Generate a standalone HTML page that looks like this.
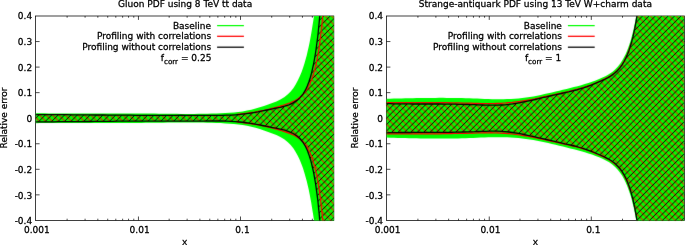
<!DOCTYPE html>
<html><head><meta charset="utf-8"><title>PDF profiling</title>
<style>html,body{margin:0;padding:0;background:#fff}svg{display:block}</style></head>
<body>
<svg width="685" height="245" viewBox="0 0 685 245" font-family='"DejaVu Sans", "Liberation Sans", sans-serif' font-size="9.0" fill="#000">
<style>text{stroke:#000;stroke-width:0.27px;stroke-linejoin:round}</style>
<rect width="685" height="245" fill="#fff"/>
<filter id="soft" x="0" y="0" width="685" height="245" filterUnits="userSpaceOnUse" color-interpolation-filters="sRGB"><feConvolveMatrix order="3" kernelMatrix="0.0052 0.0619 0.0052 0.0619 0.7314 0.0619 0.0052 0.0619 0.0052" divisor="1" edgeMode="duplicate" preserveAlpha="false"/></filter>
<filter id="soft2" x="0" y="0" width="685" height="245" filterUnits="userSpaceOnUse" color-interpolation-filters="sRGB"><feConvolveMatrix order="3" kernelMatrix="0.0004 0.0194 0.0004 0.0194 0.9206 0.0194 0.0004 0.0194 0.0004" divisor="1" edgeMode="duplicate" preserveAlpha="false"/></filter>
<filter id="soft3" x="0" y="0" width="685" height="245" filterUnits="userSpaceOnUse" color-interpolation-filters="sRGB"><feConvolveMatrix order="3" kernelMatrix="0.0143 0.0910 0.0143 0.0910 0.5785 0.0910 0.0143 0.0910 0.0143" divisor="1" edgeMode="duplicate" preserveAlpha="false"/></filter>
<path d="M67.12,220.4v-1.7M67.12,16.0v1.7M85.09,220.4v-1.7M85.09,16.0v1.7M97.84,220.4v-1.7M97.84,16.0v1.7M107.73,220.4v-1.7M107.73,16.0v1.7M115.81,220.4v-1.7M115.81,16.0v1.7M122.64,220.4v-1.7M122.64,16.0v1.7M128.56,220.4v-1.7M128.56,16.0v1.7M133.78,220.4v-1.7M133.78,16.0v1.7M138.45,220.4v-3.9M138.45,16.0v3.9M169.17,220.4v-1.7M169.17,16.0v1.7M187.14,220.4v-1.7M187.14,16.0v1.7M199.89,220.4v-1.7M199.89,16.0v1.7M209.78,220.4v-1.7M209.78,16.0v1.7M217.86,220.4v-1.7M217.86,16.0v1.7M224.69,220.4v-1.7M224.69,16.0v1.7M230.61,220.4v-1.7M230.61,16.0v1.7M235.83,220.4v-1.7M235.83,16.0v1.7M240.50,220.4v-3.9M240.50,16.0v3.9M271.72,220.4v-1.7M271.72,16.0v1.7M289.69,220.4v-1.7M289.69,16.0v1.7M302.44,220.4v-1.7M302.44,16.0v1.7M312.33,220.4v-1.7M312.33,16.0v1.7M320.41,220.4v-1.7M320.41,16.0v1.7M327.24,220.4v-1.7M327.24,16.0v1.7M35.6,194.85h4M333.8,194.85h-4M35.6,169.30h4M333.8,169.30h-4M35.6,143.75h4M333.8,143.75h-4M35.6,118.20h4M333.8,118.20h-4M35.6,92.65h4M333.8,92.65h-4M35.6,67.10h4M333.8,67.10h-4M35.6,41.55h4M333.8,41.55h-4" stroke="#000" stroke-width="0.7" fill="none"/>
<rect x="35.6" y="16.0" width="298.2" height="204.4" fill="none" stroke="#000" stroke-width="0.75"/>
<clipPath id="cl"><rect x="35.6" y="16.0" width="298.2" height="204.4"/></clipPath>
<clipPath id="rl"><path d="M35.6,114.6 L40.2,114.6 L44.7,114.6 L49.3,114.6 L53.9,114.6 L58.5,114.7 L63.0,114.7 L67.6,114.7 L72.2,114.8 L76.8,114.8 L81.3,114.8 L85.9,114.9 L90.5,114.9 L95.1,115.0 L99.6,115.0 L104.2,115.0 L108.8,115.1 L113.4,115.1 L117.9,115.1 L122.5,115.2 L127.1,115.2 L131.7,115.2 L136.2,115.3 L140.8,115.3 L145.4,115.3 L150.0,115.3 L154.5,115.3 L159.1,115.3 L163.7,115.3 L168.3,115.3 L172.8,115.3 L177.4,115.3 L182.0,115.3 L186.5,115.3 L191.1,115.3 L195.7,115.3 L200.3,115.3 L204.8,115.4 L209.4,115.4 L214.0,115.4 L218.6,115.4 L223.1,115.3 L227.7,115.1 L232.3,114.8 L236.8,114.4 L241.4,113.9 L245.9,113.3 L250.4,112.7 L255.0,112.0 L259.5,111.2 L264.0,110.3 L268.4,109.3 L272.9,108.2 L277.3,107.0 L281.7,105.7 L286.0,104.3 L290.3,102.8 L294.5,100.9 L298.4,98.5 L301.9,95.5 L304.9,92.1 L307.5,88.3 L309.6,84.3 L311.4,80.1 L312.9,75.8 L314.2,71.4 L315.4,66.9 L316.4,62.5 L317.3,58.0 L318.1,53.5 L318.8,49.0 L319.5,44.5 L320.1,39.9 L320.7,35.4 L321.2,30.8 L321.7,26.3 L322.2,21.7 L322.6,17.2 L323.0,12.6 L323.4,8.1 L335.8,8.1 L335.8,228.3 L323.4,228.3 L323.0,223.8 L322.6,219.2 L322.2,214.7 L321.7,210.1 L321.2,205.6 L320.7,201.0 L320.1,196.5 L319.5,191.9 L318.8,187.4 L318.1,182.9 L317.3,178.4 L316.4,173.9 L315.4,169.5 L314.2,165.0 L312.9,160.6 L311.4,156.3 L309.6,152.1 L307.5,148.1 L304.9,144.3 L301.9,140.9 L298.4,137.9 L294.5,135.5 L290.3,133.6 L286.0,132.1 L281.7,130.7 L277.3,129.4 L272.9,128.2 L268.4,127.1 L264.0,126.1 L259.5,125.2 L255.0,124.4 L250.4,123.7 L245.9,123.1 L241.4,122.5 L236.8,122.0 L232.3,121.6 L227.7,121.3 L223.1,121.1 L218.6,121.0 L214.0,121.0 L209.4,121.0 L204.8,121.0 L200.3,121.1 L195.7,121.1 L191.1,121.1 L186.5,121.1 L182.0,121.1 L177.4,121.1 L172.8,121.1 L168.3,121.1 L163.7,121.1 L159.1,121.1 L154.5,121.1 L150.0,121.1 L145.4,121.1 L140.8,121.1 L136.2,121.1 L131.7,121.2 L127.1,121.2 L122.5,121.2 L117.9,121.3 L113.4,121.3 L108.8,121.3 L104.2,121.4 L99.6,121.4 L95.1,121.4 L90.5,121.5 L85.9,121.5 L81.3,121.6 L76.8,121.6 L72.2,121.6 L67.6,121.7 L63.0,121.7 L58.5,121.7 L53.9,121.8 L49.3,121.8 L44.7,121.8 L40.2,121.8 L35.6,121.8Z"/></clipPath>
<clipPath id="bl"><path d="M35.6,114.6 L40.1,114.6 L44.7,114.6 L49.2,114.6 L53.8,114.6 L58.3,114.7 L62.9,114.7 L67.4,114.7 L72.0,114.8 L76.5,114.8 L81.0,114.8 L85.6,114.9 L90.1,114.9 L94.7,115.0 L99.2,115.0 L103.8,115.0 L108.3,115.1 L112.9,115.1 L117.4,115.2 L121.9,115.2 L126.5,115.2 L131.0,115.2 L135.6,115.3 L140.1,115.3 L144.7,115.3 L149.2,115.3 L153.8,115.3 L158.3,115.3 L162.8,115.3 L167.4,115.3 L171.9,115.3 L176.5,115.3 L181.0,115.2 L185.6,115.3 L190.1,115.3 L194.7,115.3 L199.2,115.3 L203.7,115.3 L208.3,115.4 L212.8,115.4 L217.4,115.4 L221.9,115.4 L226.5,115.2 L231.0,115.1 L235.5,114.8 L240.1,114.4 L244.6,113.9 L249.1,113.3 L253.6,112.6 L258.1,111.8 L262.5,110.9 L267.0,110.0 L271.4,109.1 L275.9,108.2 L280.3,107.3 L284.7,106.2 L289.0,104.8 L293.2,102.9 L297.0,100.4 L300.3,97.4 L303.2,93.8 L305.5,89.9 L307.4,85.8 L309.0,81.5 L310.4,77.2 L311.6,72.8 L312.6,68.4 L313.6,64.0 L314.4,59.5 L315.2,55.0 L315.9,50.5 L316.5,46.0 L317.1,41.5 L317.7,37.0 L318.2,32.5 L318.6,28.0 L319.1,23.4 L319.5,18.9 L319.9,14.4 L320.3,9.9 L335.8,9.9 L335.8,226.5 L320.3,226.5 L319.9,222.0 L319.5,217.5 L319.1,213.0 L318.6,208.4 L318.2,203.9 L317.7,199.4 L317.1,194.9 L316.5,190.4 L315.9,185.9 L315.2,181.4 L314.4,176.9 L313.6,172.4 L312.6,168.0 L311.6,163.6 L310.4,159.2 L309.0,154.9 L307.4,150.6 L305.5,146.5 L303.2,142.6 L300.3,139.0 L297.0,136.0 L293.2,133.5 L289.0,131.6 L284.7,130.2 L280.3,129.1 L275.9,128.2 L271.4,127.3 L267.0,126.4 L262.5,125.5 L258.1,124.6 L253.6,123.8 L249.1,123.1 L244.6,122.5 L240.1,122.0 L235.5,121.6 L231.0,121.3 L226.5,121.2 L221.9,121.0 L217.4,121.0 L212.8,121.0 L208.3,121.0 L203.7,121.1 L199.2,121.1 L194.7,121.1 L190.1,121.1 L185.6,121.1 L181.0,121.2 L176.5,121.1 L171.9,121.1 L167.4,121.1 L162.8,121.1 L158.3,121.1 L153.8,121.1 L149.2,121.1 L144.7,121.1 L140.1,121.1 L135.6,121.1 L131.0,121.2 L126.5,121.2 L121.9,121.2 L117.4,121.2 L112.9,121.3 L108.3,121.3 L103.8,121.4 L99.2,121.4 L94.7,121.4 L90.1,121.5 L85.6,121.5 L81.0,121.6 L76.5,121.6 L72.0,121.6 L67.4,121.7 L62.9,121.7 L58.3,121.7 L53.8,121.8 L49.2,121.8 L44.7,121.8 L40.1,121.8 L35.6,121.8Z"/></clipPath>
<g filter="url(#soft)"><g clip-path="url(#cl)">
<path d="M35.6,113.2 L40.0,113.3 L44.4,113.3 L48.8,113.4 L53.2,113.4 L57.6,113.4 L62.0,113.4 L66.5,113.5 L70.9,113.5 L75.3,113.5 L79.7,113.5 L84.1,113.5 L88.5,113.5 L92.9,113.5 L97.3,113.5 L101.7,113.5 L106.1,113.5 L110.5,113.5 L114.9,113.5 L119.3,113.5 L123.8,113.5 L128.2,113.5 L132.6,113.5 L137.0,113.5 L141.4,113.5 L145.8,113.6 L150.2,113.6 L154.6,113.6 L159.0,113.7 L163.4,113.7 L167.8,113.8 L172.2,113.8 L176.7,113.8 L181.1,113.9 L185.5,113.9 L189.9,113.9 L194.3,113.9 L198.7,113.8 L203.1,113.8 L207.5,113.7 L211.9,113.6 L216.3,113.4 L220.7,113.3 L225.1,113.0 L229.5,112.7 L233.9,112.4 L238.3,111.9 L242.7,111.4 L247.0,110.6 L251.3,109.7 L255.6,108.6 L259.8,107.3 L264.0,105.9 L268.2,104.5 L272.3,103.0 L276.4,101.4 L280.4,99.5 L284.2,97.2 L287.6,94.5 L290.7,91.4 L293.5,87.9 L295.8,84.2 L297.9,80.3 L299.8,76.3 L301.5,72.2 L303.0,68.1 L304.3,63.9 L305.5,59.7 L306.7,55.4 L307.7,51.1 L308.7,46.8 L309.6,42.5 L310.4,38.2 L311.2,33.8 L311.9,29.5 L312.6,25.1 L313.3,20.8 L313.9,16.4 L314.5,12.1 L315.1,7.7 L335.8,7.7 L335.8,228.7 L315.1,228.7 L314.5,224.3 L313.9,220.0 L313.3,215.6 L312.6,211.3 L311.9,206.9 L311.2,202.6 L310.4,198.2 L309.6,193.9 L308.7,189.6 L307.7,185.3 L306.7,181.0 L305.5,176.7 L304.3,172.5 L303.0,168.3 L301.5,164.2 L299.8,160.1 L297.9,156.1 L295.8,152.2 L293.5,148.5 L290.7,145.0 L287.6,141.9 L284.2,139.2 L280.4,136.9 L276.4,135.0 L272.3,133.4 L268.2,131.9 L264.0,130.5 L259.8,129.1 L255.6,127.8 L251.3,126.7 L247.0,125.8 L242.7,125.0 L238.3,124.5 L233.9,124.0 L229.5,123.7 L225.1,123.4 L220.7,123.1 L216.3,123.0 L211.9,122.8 L207.5,122.7 L203.1,122.6 L198.7,122.6 L194.3,122.5 L189.9,122.5 L185.5,122.5 L181.1,122.5 L176.7,122.6 L172.2,122.6 L167.8,122.6 L163.4,122.7 L159.0,122.7 L154.6,122.8 L150.2,122.8 L145.8,122.8 L141.4,122.9 L137.0,122.9 L132.6,122.9 L128.2,122.9 L123.8,122.9 L119.3,122.9 L114.9,122.9 L110.5,122.9 L106.1,122.9 L101.7,122.9 L97.3,122.9 L92.9,122.9 L88.5,122.9 L84.1,122.9 L79.7,122.9 L75.3,122.9 L70.9,122.9 L66.5,122.9 L62.0,123.0 L57.6,123.0 L53.2,123.0 L48.8,123.0 L44.4,123.1 L40.0,123.1 L35.6,123.2Z" fill="#00ff00"/>
<path filter="url(#soft3)" clip-path="url(#rl)" d="M-169.38,15.00L37.02,221.40M-162.97,15.00L43.43,221.40M-156.56,15.00L49.84,221.40M-150.15,15.00L56.25,221.40M-143.74,15.00L62.66,221.40M-137.33,15.00L69.07,221.40M-130.92,15.00L75.48,221.40M-124.51,15.00L81.89,221.40M-118.10,15.00L88.30,221.40M-111.69,15.00L94.71,221.40M-105.28,15.00L101.12,221.40M-98.87,15.00L107.53,221.40M-92.46,15.00L113.94,221.40M-86.05,15.00L120.35,221.40M-79.64,15.00L126.76,221.40M-73.23,15.00L133.17,221.40M-66.82,15.00L139.58,221.40M-60.41,15.00L145.99,221.40M-54.00,15.00L152.40,221.40M-47.59,15.00L158.81,221.40M-41.18,15.00L165.22,221.40M-34.77,15.00L171.63,221.40M-28.36,15.00L178.04,221.40M-21.95,15.00L184.45,221.40M-15.54,15.00L190.86,221.40M-9.13,15.00L197.27,221.40M-2.72,15.00L203.68,221.40M3.69,15.00L210.09,221.40M10.10,15.00L216.50,221.40M16.51,15.00L222.91,221.40M22.92,15.00L229.32,221.40M29.33,15.00L235.73,221.40M35.74,15.00L242.14,221.40M42.15,15.00L248.55,221.40M48.56,15.00L254.96,221.40M54.97,15.00L261.37,221.40M61.38,15.00L267.78,221.40M67.79,15.00L274.19,221.40M74.20,15.00L280.60,221.40M80.61,15.00L287.01,221.40M87.02,15.00L293.42,221.40M93.43,15.00L299.83,221.40M99.84,15.00L306.24,221.40M106.25,15.00L312.65,221.40M112.66,15.00L319.06,221.40M119.07,15.00L325.47,221.40M125.48,15.00L331.88,221.40M131.89,15.00L338.29,221.40M138.30,15.00L344.70,221.40M144.71,15.00L351.11,221.40M151.12,15.00L357.52,221.40M157.53,15.00L363.93,221.40M163.94,15.00L370.34,221.40M170.35,15.00L376.75,221.40M176.76,15.00L383.16,221.40M183.17,15.00L389.57,221.40M189.58,15.00L395.98,221.40M195.99,15.00L402.39,221.40M202.40,15.00L408.80,221.40M208.81,15.00L415.21,221.40M215.22,15.00L421.62,221.40M221.63,15.00L428.03,221.40M228.04,15.00L434.44,221.40M234.45,15.00L440.85,221.40M240.86,15.00L447.26,221.40M247.27,15.00L453.67,221.40M253.68,15.00L460.08,221.40M260.09,15.00L466.49,221.40M266.50,15.00L472.90,221.40M272.91,15.00L479.31,221.40M279.32,15.00L485.72,221.40M285.73,15.00L492.13,221.40M292.14,15.00L498.54,221.40M298.55,15.00L504.95,221.40M304.96,15.00L511.36,221.40M311.37,15.00L517.77,221.40M317.78,15.00L524.18,221.40M324.19,15.00L530.59,221.40M330.60,15.00L537.00,221.40" stroke="#ff0000" stroke-width="1.02" fill="none"/>
<path filter="url(#soft2)" clip-path="url(#bl)" d="M36.32,15.00L-170.08,221.40M42.73,15.00L-163.67,221.40M49.14,15.00L-157.26,221.40M55.55,15.00L-150.85,221.40M61.96,15.00L-144.44,221.40M68.37,15.00L-138.03,221.40M74.78,15.00L-131.62,221.40M81.19,15.00L-125.21,221.40M87.60,15.00L-118.80,221.40M94.01,15.00L-112.39,221.40M100.42,15.00L-105.98,221.40M106.83,15.00L-99.57,221.40M113.24,15.00L-93.16,221.40M119.65,15.00L-86.75,221.40M126.06,15.00L-80.34,221.40M132.47,15.00L-73.93,221.40M138.88,15.00L-67.52,221.40M145.29,15.00L-61.11,221.40M151.70,15.00L-54.70,221.40M158.11,15.00L-48.29,221.40M164.52,15.00L-41.88,221.40M170.93,15.00L-35.47,221.40M177.34,15.00L-29.06,221.40M183.75,15.00L-22.65,221.40M190.16,15.00L-16.24,221.40M196.57,15.00L-9.83,221.40M202.98,15.00L-3.42,221.40M209.39,15.00L2.99,221.40M215.80,15.00L9.40,221.40M222.21,15.00L15.81,221.40M228.62,15.00L22.22,221.40M235.03,15.00L28.63,221.40M241.44,15.00L35.04,221.40M247.85,15.00L41.45,221.40M254.26,15.00L47.86,221.40M260.67,15.00L54.27,221.40M267.08,15.00L60.68,221.40M273.49,15.00L67.09,221.40M279.90,15.00L73.50,221.40M286.31,15.00L79.91,221.40M292.72,15.00L86.32,221.40M299.13,15.00L92.73,221.40M305.54,15.00L99.14,221.40M311.95,15.00L105.55,221.40M318.36,15.00L111.96,221.40M324.77,15.00L118.37,221.40M331.18,15.00L124.78,221.40M337.59,15.00L131.19,221.40M344.00,15.00L137.60,221.40M350.41,15.00L144.01,221.40M356.82,15.00L150.42,221.40M363.23,15.00L156.83,221.40M369.64,15.00L163.24,221.40M376.05,15.00L169.65,221.40M382.46,15.00L176.06,221.40M388.87,15.00L182.47,221.40M395.28,15.00L188.88,221.40M401.69,15.00L195.29,221.40M408.10,15.00L201.70,221.40M414.51,15.00L208.11,221.40M420.92,15.00L214.52,221.40M427.33,15.00L220.93,221.40M433.74,15.00L227.34,221.40M440.15,15.00L233.75,221.40M446.56,15.00L240.16,221.40M452.97,15.00L246.57,221.40M459.38,15.00L252.98,221.40M465.79,15.00L259.39,221.40M472.20,15.00L265.80,221.40M478.61,15.00L272.21,221.40M485.02,15.00L278.62,221.40M491.43,15.00L285.03,221.40M497.84,15.00L291.44,221.40M504.25,15.00L297.85,221.40M510.66,15.00L304.26,221.40M517.07,15.00L310.67,221.40M523.48,15.00L317.08,221.40M529.89,15.00L323.49,221.40M536.30,15.00L329.90,221.40" stroke="#000" stroke-width="1.0" fill="none"/>
<path d="M236.8,114.4 L241.4,113.9 L245.9,113.3 L250.4,112.7 L255.0,112.0 L259.5,111.2 L264.0,110.3 L268.4,109.3 L272.9,108.2 L277.3,107.0 L281.7,105.7 L286.0,104.3 L290.3,102.8 L294.5,100.9 L298.4,98.5 L301.9,95.5 L304.9,92.1 L307.5,88.3 L309.6,84.3 L311.4,80.1 L312.9,75.8 L314.2,71.4 L315.4,66.9 L316.4,62.5 L317.3,58.0 L318.1,53.5 L318.8,49.0 L319.5,44.5 L320.1,39.9 L320.7,35.4 L321.2,30.8 L321.7,26.3 L322.2,21.7 L322.6,17.2 L323.0,12.6 L323.4,8.1 M236.8,122.0 L241.4,122.5 L245.9,123.1 L250.4,123.7 L255.0,124.4 L259.5,125.2 L264.0,126.1 L268.4,127.1 L272.9,128.2 L277.3,129.4 L281.7,130.7 L286.0,132.1 L290.3,133.6 L294.5,135.5 L298.4,137.9 L301.9,140.9 L304.9,144.3 L307.5,148.1 L309.6,152.1 L311.4,156.3 L312.9,160.6 L314.2,165.0 L315.4,169.5 L316.4,173.9 L317.3,178.4 L318.1,182.9 L318.8,187.4 L319.5,191.9 L320.1,196.5 L320.7,201.0 L321.2,205.6 L321.7,210.1 L322.2,214.7 L322.6,219.2 L323.0,223.8 L323.4,228.3" fill="none" stroke="#ff0000" stroke-width="1.2"/>
<path d="M35.6,114.6 L40.1,114.6 L44.7,114.6 L49.2,114.6 L53.8,114.6 L58.3,114.7 L62.9,114.7 L67.4,114.7 L72.0,114.8 L76.5,114.8 L81.0,114.8 L85.6,114.9 L90.1,114.9 L94.7,115.0 L99.2,115.0 L103.8,115.0 L108.3,115.1 L112.9,115.1 L117.4,115.2 L121.9,115.2 L126.5,115.2 L131.0,115.2 L135.6,115.3 L140.1,115.3 L144.7,115.3 L149.2,115.3 L153.8,115.3 L158.3,115.3 L162.8,115.3 L167.4,115.3 L171.9,115.3 L176.5,115.3 L181.0,115.2 L185.6,115.3 L190.1,115.3 L194.7,115.3 L199.2,115.3 L203.7,115.3 L208.3,115.4 L212.8,115.4 L217.4,115.4 L221.9,115.4 L226.5,115.2 L231.0,115.1 L235.5,114.8 L240.1,114.4 L244.6,113.9 L249.1,113.3 L253.6,112.6 L258.1,111.8 L262.5,110.9 L267.0,110.0 L271.4,109.1 L275.9,108.2 L280.3,107.3 L284.7,106.2 L289.0,104.8 L293.2,102.9 L297.0,100.4 L300.3,97.4 L303.2,93.8 L305.5,89.9 L307.4,85.8 L309.0,81.5 L310.4,77.2 L311.6,72.8 L312.6,68.4 L313.6,64.0 L314.4,59.5 L315.2,55.0 L315.9,50.5 L316.5,46.0 L317.1,41.5 L317.7,37.0 L318.2,32.5 L318.6,28.0 L319.1,23.4 L319.5,18.9 L319.9,14.4 L320.3,9.9 M35.6,121.8 L40.1,121.8 L44.7,121.8 L49.2,121.8 L53.8,121.8 L58.3,121.7 L62.9,121.7 L67.4,121.7 L72.0,121.6 L76.5,121.6 L81.0,121.6 L85.6,121.5 L90.1,121.5 L94.7,121.4 L99.2,121.4 L103.8,121.4 L108.3,121.3 L112.9,121.3 L117.4,121.2 L121.9,121.2 L126.5,121.2 L131.0,121.2 L135.6,121.1 L140.1,121.1 L144.7,121.1 L149.2,121.1 L153.8,121.1 L158.3,121.1 L162.8,121.1 L167.4,121.1 L171.9,121.1 L176.5,121.1 L181.0,121.2 L185.6,121.1 L190.1,121.1 L194.7,121.1 L199.2,121.1 L203.7,121.1 L208.3,121.0 L212.8,121.0 L217.4,121.0 L221.9,121.0 L226.5,121.2 L231.0,121.3 L235.5,121.6 L240.1,122.0 L244.6,122.5 L249.1,123.1 L253.6,123.8 L258.1,124.6 L262.5,125.5 L267.0,126.4 L271.4,127.3 L275.9,128.2 L280.3,129.1 L284.7,130.2 L289.0,131.6 L293.2,133.5 L297.0,136.0 L300.3,139.0 L303.2,142.6 L305.5,146.5 L307.4,150.6 L309.0,154.9 L310.4,159.2 L311.6,163.6 L312.6,168.0 L313.6,172.4 L314.4,176.9 L315.2,181.4 L315.9,185.9 L316.5,190.4 L317.1,194.9 L317.7,199.4 L318.2,203.9 L318.6,208.4 L319.1,213.0 L319.5,217.5 L319.9,222.0 L320.3,226.5" fill="none" stroke="#000" stroke-width="1.3"/>
</g></g>
<text x="185.1" y="7.3" text-anchor="middle">Gluon PDF using 8 TeV tt data</text>
<text x="184.7" y="245.1" text-anchor="middle">x</text>
<text transform="translate(7.0,118.0) rotate(-90)" text-anchor="middle">Relative error</text>
<text x="32.2" y="224.0" text-anchor="end">-0.4</text>
<text x="32.2" y="198.5" text-anchor="end">-0.3</text>
<text x="32.2" y="172.9" text-anchor="end">-0.2</text>
<text x="32.2" y="147.3" text-anchor="end">-0.1</text>
<text x="32.2" y="121.8" text-anchor="end">0</text>
<text x="32.2" y="96.2" text-anchor="end">0.1</text>
<text x="32.2" y="70.7" text-anchor="end">0.2</text>
<text x="32.2" y="45.1" text-anchor="end">0.3</text>
<text x="32.2" y="19.1" text-anchor="end">0.4</text>
<text x="36.8" y="233.3" text-anchor="middle">0.001</text>
<text x="139.6" y="233.3" text-anchor="middle">0.01</text>
<text x="242.5" y="233.3" text-anchor="middle">0.1</text>
<text x="211.1" y="29.1" text-anchor="end">Baseline</text>
<path filter="url(#soft)" d="M217.1,25.6h26.8" stroke="#00ff00" stroke-width="1.25"/>
<text x="211.1" y="39.4" text-anchor="end">Profiling with correlations</text>
<path filter="url(#soft)" d="M217.1,36.3h26.8" stroke="#ff0000" stroke-width="1.25"/>
<text x="211.1" y="50.3" text-anchor="end">Profiling without correlations</text>
<path filter="url(#soft)" d="M217.1,47.2h26.8" stroke="#000000" stroke-width="1.25"/>
<text x="211.4" y="61.4" text-anchor="end">f<tspan font-size="7.2" dy="2.7">corr</tspan><tspan dy="-2.7"> = 0.25</tspan></text>
<path d="M417.92,220.4v-1.7M417.92,16.0v1.7M435.89,220.4v-1.7M435.89,16.0v1.7M448.64,220.4v-1.7M448.64,16.0v1.7M458.53,220.4v-1.7M458.53,16.0v1.7M466.61,220.4v-1.7M466.61,16.0v1.7M473.44,220.4v-1.7M473.44,16.0v1.7M479.36,220.4v-1.7M479.36,16.0v1.7M484.58,220.4v-1.7M484.58,16.0v1.7M489.25,220.4v-3.9M489.25,16.0v3.9M519.97,220.4v-1.7M519.97,16.0v1.7M537.94,220.4v-1.7M537.94,16.0v1.7M550.69,220.4v-1.7M550.69,16.0v1.7M560.58,220.4v-1.7M560.58,16.0v1.7M568.66,220.4v-1.7M568.66,16.0v1.7M575.49,220.4v-1.7M575.49,16.0v1.7M581.41,220.4v-1.7M581.41,16.0v1.7M586.63,220.4v-1.7M586.63,16.0v1.7M591.30,220.4v-3.9M591.30,16.0v3.9M622.52,220.4v-1.7M622.52,16.0v1.7M640.49,220.4v-1.7M640.49,16.0v1.7M653.24,220.4v-1.7M653.24,16.0v1.7M663.13,220.4v-1.7M663.13,16.0v1.7M671.21,220.4v-1.7M671.21,16.0v1.7M678.04,220.4v-1.7M678.04,16.0v1.7M386.4,194.85h4M684.6,194.85h-4M386.4,169.30h4M684.6,169.30h-4M386.4,143.75h4M684.6,143.75h-4M386.4,118.20h4M684.6,118.20h-4M386.4,92.65h4M684.6,92.65h-4M386.4,67.10h4M684.6,67.10h-4M386.4,41.55h4M684.6,41.55h-4" stroke="#000" stroke-width="0.7" fill="none"/>
<rect x="386.4" y="16.0" width="298.20000000000005" height="204.4" fill="none" stroke="#000" stroke-width="0.75"/>
<clipPath id="cr"><rect x="386.4" y="16.0" width="297.7" height="204.4"/></clipPath>
<clipPath id="rr"><path d="M386.4,102.5 L390.2,102.5 L394.0,102.5 L397.8,102.5 L401.7,102.5 L405.5,102.5 L409.3,102.5 L413.1,102.5 L416.9,102.5 L420.7,102.5 L424.5,102.5 L428.3,102.6 L432.2,102.6 L436.0,102.6 L439.8,102.6 L443.6,102.7 L447.4,102.7 L451.2,102.8 L455.0,102.9 L458.9,102.9 L462.7,103.0 L466.5,103.1 L470.3,103.2 L474.1,103.3 L477.9,103.4 L481.7,103.5 L485.5,103.5 L489.4,103.5 L493.2,103.5 L497.0,103.4 L500.8,103.3 L504.6,103.0 L508.4,102.7 L512.2,102.4 L516.0,101.9 L519.8,101.4 L523.5,100.8 L527.3,100.2 L531.0,99.5 L534.8,98.8 L538.5,98.0 L542.3,97.2 L546.0,96.4 L549.7,95.6 L553.4,94.8 L557.1,93.9 L560.9,93.1 L564.6,92.3 L568.3,91.5 L572.0,90.6 L575.7,89.7 L579.4,88.7 L583.1,87.6 L586.7,86.4 L590.3,85.1 L593.8,83.7 L597.3,82.2 L600.8,80.7 L604.3,79.1 L607.7,77.4 L611.0,75.5 L614.1,73.2 L617.0,70.7 L619.5,67.9 L621.8,64.9 L623.8,61.6 L625.6,58.3 L627.2,54.8 L628.6,51.2 L629.9,47.6 L631.0,44.0 L632.0,40.3 L633.0,36.6 L633.8,32.9 L634.6,29.2 L635.4,25.5 L636.1,21.7 L636.7,17.9 L637.3,14.2 L637.9,10.4 L686.6,10.4 L686.6,226.0 L637.9,226.0 L637.3,222.2 L636.7,218.5 L636.1,214.7 L635.4,210.9 L634.6,207.2 L633.8,203.5 L633.0,199.8 L632.0,196.1 L631.0,192.4 L629.9,188.8 L628.6,185.2 L627.2,181.6 L625.6,178.1 L623.8,174.8 L621.8,171.5 L619.5,168.5 L617.0,165.7 L614.1,163.2 L611.0,160.9 L607.7,159.0 L604.3,157.3 L600.8,155.7 L597.3,154.2 L593.8,152.7 L590.3,151.3 L586.7,150.0 L583.1,148.8 L579.4,147.7 L575.7,146.7 L572.0,145.8 L568.3,144.9 L564.6,144.1 L560.9,143.3 L557.1,142.5 L553.4,141.6 L549.7,140.8 L546.0,140.0 L542.3,139.2 L538.5,138.4 L534.8,137.6 L531.0,136.9 L527.3,136.2 L523.5,135.6 L519.8,135.0 L516.0,134.5 L512.2,134.0 L508.4,133.7 L504.6,133.4 L500.8,133.1 L497.0,133.0 L493.2,132.9 L489.4,132.9 L485.5,132.9 L481.7,132.9 L477.9,133.0 L474.1,133.1 L470.3,133.2 L466.5,133.3 L462.7,133.4 L458.9,133.5 L455.0,133.5 L451.2,133.6 L447.4,133.7 L443.6,133.7 L439.8,133.8 L436.0,133.8 L432.2,133.8 L428.3,133.8 L424.5,133.9 L420.7,133.9 L416.9,133.9 L413.1,133.9 L409.3,133.9 L405.5,133.9 L401.7,133.9 L397.8,133.9 L394.0,133.9 L390.2,133.9 L386.4,133.9Z"/></clipPath>
<clipPath id="br"><path d="M386.4,103.6 L390.2,103.7 L394.0,103.8 L397.9,103.8 L401.7,103.9 L405.5,103.9 L409.4,103.9 L413.2,104.0 L417.0,104.0 L420.8,104.0 L424.7,104.0 L428.5,104.0 L432.3,104.0 L436.1,104.0 L440.0,104.0 L443.8,104.1 L447.6,104.1 L451.4,104.1 L455.3,104.2 L459.1,104.3 L462.9,104.4 L466.7,104.5 L470.6,104.6 L474.4,104.7 L478.2,104.9 L482.0,105.0 L485.9,105.1 L489.7,105.2 L493.5,105.2 L497.3,105.2 L501.2,105.0 L505.0,104.8 L508.8,104.4 L512.6,103.9 L516.4,103.3 L520.1,102.7 L523.9,101.9 L527.6,101.1 L531.4,100.3 L535.1,99.5 L538.8,98.6 L542.6,97.7 L546.3,96.9 L550.0,96.0 L553.7,95.2 L557.5,94.3 L561.2,93.5 L564.9,92.6 L568.7,91.8 L572.4,90.9 L576.1,90.0 L579.8,88.9 L583.5,87.8 L587.1,86.6 L590.7,85.3 L594.2,83.9 L597.8,82.4 L601.3,80.9 L604.7,79.3 L608.1,77.6 L611.4,75.6 L614.5,73.3 L617.3,70.7 L619.9,67.9 L622.1,64.8 L624.1,61.5 L625.8,58.1 L627.4,54.6 L628.8,51.0 L630.0,47.4 L631.1,43.8 L632.1,40.1 L633.1,36.4 L633.9,32.6 L634.7,28.9 L635.4,25.1 L636.1,21.4 L636.7,17.6 L637.3,13.8 L637.9,10.0 L686.6,10.0 L686.6,226.4 L637.9,226.4 L637.3,222.6 L636.7,218.8 L636.1,215.0 L635.4,211.3 L634.7,207.5 L633.9,203.8 L633.1,200.0 L632.1,196.3 L631.1,192.6 L630.0,189.0 L628.8,185.4 L627.4,181.8 L625.8,178.3 L624.1,174.9 L622.1,171.6 L619.9,168.5 L617.3,165.7 L614.5,163.1 L611.4,160.8 L608.1,158.8 L604.7,157.1 L601.3,155.5 L597.8,154.0 L594.2,152.5 L590.7,151.1 L587.1,149.8 L583.5,148.6 L579.8,147.5 L576.1,146.4 L572.4,145.5 L568.7,144.6 L564.9,143.8 L561.2,142.9 L557.5,142.1 L553.7,141.2 L550.0,140.4 L546.3,139.5 L542.6,138.7 L538.8,137.8 L535.1,136.9 L531.4,136.1 L527.6,135.3 L523.9,134.5 L520.1,133.7 L516.4,133.1 L512.6,132.5 L508.8,132.0 L505.0,131.6 L501.2,131.4 L497.3,131.2 L493.5,131.2 L489.7,131.2 L485.9,131.3 L482.0,131.4 L478.2,131.5 L474.4,131.7 L470.6,131.8 L466.7,131.9 L462.9,132.0 L459.1,132.1 L455.3,132.2 L451.4,132.3 L447.6,132.3 L443.8,132.3 L440.0,132.4 L436.1,132.4 L432.3,132.4 L428.5,132.4 L424.7,132.4 L420.8,132.4 L417.0,132.4 L413.2,132.4 L409.4,132.5 L405.5,132.5 L401.7,132.5 L397.9,132.6 L394.0,132.6 L390.2,132.7 L386.4,132.8Z"/></clipPath>
<g filter="url(#soft)"><g clip-path="url(#cr)">
<path d="M386.4,98.8 L390.2,98.7 L393.9,98.6 L397.7,98.5 L401.5,98.4 L405.3,98.3 L409.0,98.2 L412.8,98.2 L416.6,98.1 L420.4,98.0 L424.1,98.0 L427.9,97.9 L431.7,97.9 L435.5,97.9 L439.2,97.8 L443.0,97.8 L446.8,97.9 L450.6,97.9 L454.3,97.9 L458.1,98.0 L461.9,98.1 L465.7,98.2 L469.4,98.3 L473.2,98.5 L477.0,98.6 L480.8,98.8 L484.5,98.9 L488.3,99.1 L492.1,99.2 L495.8,99.2 L499.6,99.2 L503.4,99.2 L507.2,99.1 L510.9,98.9 L514.7,98.7 L518.5,98.4 L522.2,98.0 L526.0,97.5 L529.7,97.0 L533.4,96.4 L537.1,95.7 L540.8,94.9 L544.5,94.1 L548.2,93.3 L551.9,92.4 L555.6,91.6 L559.2,90.7 L562.9,89.8 L566.6,88.9 L570.2,88.0 L573.9,87.1 L577.6,86.2 L581.2,85.2 L584.8,84.1 L588.4,83.0 L592.0,81.8 L595.6,80.5 L599.1,79.1 L602.5,77.6 L605.9,76.0 L609.2,74.1 L612.3,71.9 L615.1,69.4 L617.7,66.7 L620.1,63.7 L622.2,60.6 L624.0,57.3 L625.7,53.9 L627.2,50.5 L628.5,46.9 L629.7,43.4 L630.9,39.8 L631.9,36.1 L632.8,32.5 L633.7,28.8 L634.5,25.1 L635.2,21.4 L635.9,17.7 L636.6,14.0 L637.2,10.2 L686.6,10.2 L686.6,226.2 L637.2,226.2 L636.6,222.4 L635.9,218.7 L635.2,215.0 L634.5,211.3 L633.7,207.6 L632.8,203.9 L631.9,200.3 L630.9,196.6 L629.7,193.0 L628.5,189.5 L627.2,185.9 L625.7,182.5 L624.0,179.1 L622.2,175.8 L620.1,172.7 L617.7,169.7 L615.1,167.0 L612.3,164.5 L609.2,162.3 L605.9,160.4 L602.5,158.8 L599.1,157.3 L595.6,155.9 L592.0,154.6 L588.4,153.4 L584.8,152.3 L581.2,151.2 L577.6,150.2 L573.9,149.3 L570.2,148.4 L566.6,147.5 L562.9,146.6 L559.2,145.7 L555.6,144.8 L551.9,144.0 L548.2,143.1 L544.5,142.3 L540.8,141.5 L537.1,140.7 L533.4,140.0 L529.7,139.4 L526.0,138.9 L522.2,138.4 L518.5,138.0 L514.7,137.7 L510.9,137.5 L507.2,137.3 L503.4,137.2 L499.6,137.2 L495.8,137.2 L492.1,137.2 L488.3,137.3 L484.5,137.5 L480.8,137.6 L477.0,137.8 L473.2,137.9 L469.4,138.1 L465.7,138.2 L461.9,138.3 L458.1,138.4 L454.3,138.5 L450.6,138.5 L446.8,138.5 L443.0,138.6 L439.2,138.6 L435.5,138.5 L431.7,138.5 L427.9,138.5 L424.1,138.4 L420.4,138.4 L416.6,138.3 L412.8,138.2 L409.0,138.2 L405.3,138.1 L401.5,138.0 L397.7,137.9 L393.9,137.8 L390.2,137.7 L386.4,137.6Z" fill="#00ff00"/>
<path filter="url(#soft3)" clip-path="url(#rr)" d="M181.42,15.00L387.82,221.40M187.83,15.00L394.23,221.40M194.24,15.00L400.64,221.40M200.65,15.00L407.05,221.40M207.06,15.00L413.46,221.40M213.47,15.00L419.87,221.40M219.88,15.00L426.28,221.40M226.29,15.00L432.69,221.40M232.70,15.00L439.10,221.40M239.11,15.00L445.51,221.40M245.52,15.00L451.92,221.40M251.93,15.00L458.33,221.40M258.34,15.00L464.74,221.40M264.75,15.00L471.15,221.40M271.16,15.00L477.56,221.40M277.57,15.00L483.97,221.40M283.98,15.00L490.38,221.40M290.39,15.00L496.79,221.40M296.80,15.00L503.20,221.40M303.21,15.00L509.61,221.40M309.62,15.00L516.02,221.40M316.03,15.00L522.43,221.40M322.44,15.00L528.84,221.40M328.85,15.00L535.25,221.40M335.26,15.00L541.66,221.40M341.67,15.00L548.07,221.40M348.08,15.00L554.48,221.40M354.49,15.00L560.89,221.40M360.90,15.00L567.30,221.40M367.31,15.00L573.71,221.40M373.72,15.00L580.12,221.40M380.13,15.00L586.53,221.40M386.54,15.00L592.94,221.40M392.95,15.00L599.35,221.40M399.36,15.00L605.76,221.40M405.77,15.00L612.17,221.40M412.18,15.00L618.58,221.40M418.59,15.00L624.99,221.40M425.00,15.00L631.40,221.40M431.41,15.00L637.81,221.40M437.82,15.00L644.22,221.40M444.23,15.00L650.63,221.40M450.64,15.00L657.04,221.40M457.05,15.00L663.45,221.40M463.46,15.00L669.86,221.40M469.87,15.00L676.27,221.40M476.28,15.00L682.68,221.40M482.69,15.00L689.09,221.40M489.10,15.00L695.50,221.40M495.51,15.00L701.91,221.40M501.92,15.00L708.32,221.40M508.33,15.00L714.73,221.40M514.74,15.00L721.14,221.40M521.15,15.00L727.55,221.40M527.56,15.00L733.96,221.40M533.97,15.00L740.37,221.40M540.38,15.00L746.78,221.40M546.79,15.00L753.19,221.40M553.20,15.00L759.60,221.40M559.61,15.00L766.01,221.40M566.02,15.00L772.42,221.40M572.43,15.00L778.83,221.40M578.84,15.00L785.24,221.40M585.25,15.00L791.65,221.40M591.66,15.00L798.06,221.40M598.07,15.00L804.47,221.40M604.48,15.00L810.88,221.40M610.89,15.00L817.29,221.40M617.30,15.00L823.70,221.40M623.71,15.00L830.11,221.40M630.12,15.00L836.52,221.40M636.53,15.00L842.93,221.40M642.94,15.00L849.34,221.40M649.35,15.00L855.75,221.40M655.76,15.00L862.16,221.40M662.17,15.00L868.57,221.40M668.58,15.00L874.98,221.40M674.99,15.00L881.39,221.40M681.40,15.00L887.80,221.40" stroke="#ff0000" stroke-width="1.02" fill="none"/>
<path filter="url(#soft2)" clip-path="url(#br)" d="M387.12,15.00L180.72,221.40M393.53,15.00L187.13,221.40M399.94,15.00L193.54,221.40M406.35,15.00L199.95,221.40M412.76,15.00L206.36,221.40M419.17,15.00L212.77,221.40M425.58,15.00L219.18,221.40M431.99,15.00L225.59,221.40M438.40,15.00L232.00,221.40M444.81,15.00L238.41,221.40M451.22,15.00L244.82,221.40M457.63,15.00L251.23,221.40M464.04,15.00L257.64,221.40M470.45,15.00L264.05,221.40M476.86,15.00L270.46,221.40M483.27,15.00L276.87,221.40M489.68,15.00L283.28,221.40M496.09,15.00L289.69,221.40M502.50,15.00L296.10,221.40M508.91,15.00L302.51,221.40M515.32,15.00L308.92,221.40M521.73,15.00L315.33,221.40M528.14,15.00L321.74,221.40M534.55,15.00L328.15,221.40M540.96,15.00L334.56,221.40M547.37,15.00L340.97,221.40M553.78,15.00L347.38,221.40M560.19,15.00L353.79,221.40M566.60,15.00L360.20,221.40M573.01,15.00L366.61,221.40M579.42,15.00L373.02,221.40M585.83,15.00L379.43,221.40M592.24,15.00L385.84,221.40M598.65,15.00L392.25,221.40M605.06,15.00L398.66,221.40M611.47,15.00L405.07,221.40M617.88,15.00L411.48,221.40M624.29,15.00L417.89,221.40M630.70,15.00L424.30,221.40M637.11,15.00L430.71,221.40M643.52,15.00L437.12,221.40M649.93,15.00L443.53,221.40M656.34,15.00L449.94,221.40M662.75,15.00L456.35,221.40M669.16,15.00L462.76,221.40M675.57,15.00L469.17,221.40M681.98,15.00L475.58,221.40M688.39,15.00L481.99,221.40M694.80,15.00L488.40,221.40M701.21,15.00L494.81,221.40M707.62,15.00L501.22,221.40M714.03,15.00L507.63,221.40M720.44,15.00L514.04,221.40M726.85,15.00L520.45,221.40M733.26,15.00L526.86,221.40M739.67,15.00L533.27,221.40M746.08,15.00L539.68,221.40M752.49,15.00L546.09,221.40M758.90,15.00L552.50,221.40M765.31,15.00L558.91,221.40M771.72,15.00L565.32,221.40M778.13,15.00L571.73,221.40M784.54,15.00L578.14,221.40M790.95,15.00L584.55,221.40M797.36,15.00L590.96,221.40M803.77,15.00L597.37,221.40M810.18,15.00L603.78,221.40M816.59,15.00L610.19,221.40M823.00,15.00L616.60,221.40M829.41,15.00L623.01,221.40M835.82,15.00L629.42,221.40M842.23,15.00L635.83,221.40M848.64,15.00L642.24,221.40M855.05,15.00L648.65,221.40M861.46,15.00L655.06,221.40M867.87,15.00L661.47,221.40M874.28,15.00L667.88,221.40M880.69,15.00L674.29,221.40M887.10,15.00L680.70,221.40" stroke="#000" stroke-width="1.0" fill="none"/>
<path d="M386.4,102.5 L390.2,102.5 L394.0,102.5 L397.8,102.5 L401.7,102.5 L405.5,102.5 L409.3,102.5 L413.1,102.5 L416.9,102.5 L420.7,102.5 L424.5,102.5 L428.3,102.6 L432.2,102.6 L436.0,102.6 L439.8,102.6 L443.6,102.7 L447.4,102.7 L451.2,102.8 L455.0,102.9 L458.9,102.9 L462.7,103.0 L466.5,103.1 L470.3,103.2 L474.1,103.3 L477.9,103.4 L481.7,103.5 L485.5,103.5 L489.4,103.5 L493.2,103.5 L497.0,103.4 L500.8,103.3 L504.6,103.0 L508.4,102.7 L512.2,102.4 L516.0,101.9 L519.8,101.4 L523.5,100.8 L527.3,100.2 L531.0,99.5 L534.8,98.8 L538.5,98.0 L542.3,97.2 L546.0,96.4 L549.7,95.6 L553.4,94.8 L557.1,93.9 L560.9,93.1 L564.6,92.3 L568.3,91.5 L572.0,90.6 L575.7,89.7 L579.4,88.7 L583.1,87.6 L586.7,86.4 L590.3,85.1 L593.8,83.7 L597.3,82.2 L600.8,80.7 L604.3,79.1 L607.7,77.4 L611.0,75.5 L614.1,73.2 L617.0,70.7 L619.5,67.9 L621.8,64.9 L623.8,61.6 L625.6,58.3 L627.2,54.8 L628.6,51.2 L629.9,47.6 L631.0,44.0 M386.4,133.9 L390.2,133.9 L394.0,133.9 L397.8,133.9 L401.7,133.9 L405.5,133.9 L409.3,133.9 L413.1,133.9 L416.9,133.9 L420.7,133.9 L424.5,133.9 L428.3,133.8 L432.2,133.8 L436.0,133.8 L439.8,133.8 L443.6,133.7 L447.4,133.7 L451.2,133.6 L455.0,133.5 L458.9,133.5 L462.7,133.4 L466.5,133.3 L470.3,133.2 L474.1,133.1 L477.9,133.0 L481.7,132.9 L485.5,132.9 L489.4,132.9 L493.2,132.9 L497.0,133.0 L500.8,133.1 L504.6,133.4 L508.4,133.7 L512.2,134.0 L516.0,134.5 L519.8,135.0 L523.5,135.6 L527.3,136.2 L531.0,136.9 L534.8,137.6 L538.5,138.4 L542.3,139.2 L546.0,140.0 L549.7,140.8 L553.4,141.6 L557.1,142.5 L560.9,143.3 L564.6,144.1 L568.3,144.9 L572.0,145.8 L575.7,146.7 L579.4,147.7 L583.1,148.8 L586.7,150.0 L590.3,151.3 L593.8,152.7 L597.3,154.2 L600.8,155.7 L604.3,157.3 L607.7,159.0 L611.0,160.9 L614.1,163.2 L617.0,165.7 L619.5,168.5 L621.8,171.5 L623.8,174.8 L625.6,178.1 L627.2,181.6 L628.6,185.2 L629.9,188.8 L631.0,192.4" fill="none" stroke="#ff0000" stroke-width="1.2"/>
<path d="M386.4,103.6 L390.2,103.7 L394.0,103.8 L397.9,103.8 L401.7,103.9 L405.5,103.9 L409.4,103.9 L413.2,104.0 L417.0,104.0 L420.8,104.0 L424.7,104.0 L428.5,104.0 L432.3,104.0 L436.1,104.0 L440.0,104.0 L443.8,104.1 L447.6,104.1 L451.4,104.1 L455.3,104.2 L459.1,104.3 L462.9,104.4 L466.7,104.5 L470.6,104.6 L474.4,104.7 L478.2,104.9 L482.0,105.0 L485.9,105.1 L489.7,105.2 L493.5,105.2 L497.3,105.2 L501.2,105.0 L505.0,104.8 L508.8,104.4 L512.6,103.9 L516.4,103.3 L520.1,102.7 L523.9,101.9 L527.6,101.1 L531.4,100.3 L535.1,99.5 L538.8,98.6 L542.6,97.7 L546.3,96.9 L550.0,96.0 L553.7,95.2 L557.5,94.3 L561.2,93.5 L564.9,92.6 L568.7,91.8 L572.4,90.9 L576.1,90.0 L579.8,88.9 L583.5,87.8 L587.1,86.6 L590.7,85.3 L594.2,83.9 L597.8,82.4 L601.3,80.9 L604.7,79.3 L608.1,77.6 L611.4,75.6 L614.5,73.3 L617.3,70.7 L619.9,67.9 L622.1,64.8 L624.1,61.5 L625.8,58.1 L627.4,54.6 L628.8,51.0 L630.0,47.4 L631.1,43.8 L632.1,40.1 L633.1,36.4 L633.9,32.6 L634.7,28.9 L635.4,25.1 L636.1,21.4 L636.7,17.6 L637.3,13.8 L637.9,10.0 M386.4,132.8 L390.2,132.7 L394.0,132.6 L397.9,132.6 L401.7,132.5 L405.5,132.5 L409.4,132.5 L413.2,132.4 L417.0,132.4 L420.8,132.4 L424.7,132.4 L428.5,132.4 L432.3,132.4 L436.1,132.4 L440.0,132.4 L443.8,132.3 L447.6,132.3 L451.4,132.3 L455.3,132.2 L459.1,132.1 L462.9,132.0 L466.7,131.9 L470.6,131.8 L474.4,131.7 L478.2,131.5 L482.0,131.4 L485.9,131.3 L489.7,131.2 L493.5,131.2 L497.3,131.2 L501.2,131.4 L505.0,131.6 L508.8,132.0 L512.6,132.5 L516.4,133.1 L520.1,133.7 L523.9,134.5 L527.6,135.3 L531.4,136.1 L535.1,136.9 L538.8,137.8 L542.6,138.7 L546.3,139.5 L550.0,140.4 L553.7,141.2 L557.5,142.1 L561.2,142.9 L564.9,143.8 L568.7,144.6 L572.4,145.5 L576.1,146.4 L579.8,147.5 L583.5,148.6 L587.1,149.8 L590.7,151.1 L594.2,152.5 L597.8,154.0 L601.3,155.5 L604.7,157.1 L608.1,158.8 L611.4,160.8 L614.5,163.1 L617.3,165.7 L619.9,168.5 L622.1,171.6 L624.1,174.9 L625.8,178.3 L627.4,181.8 L628.8,185.4 L630.0,189.0 L631.1,192.6 L632.1,196.3 L633.1,200.0 L633.9,203.8 L634.7,207.5 L635.4,211.3 L636.1,215.0 L636.7,218.8 L637.3,222.6 L637.9,226.4" fill="none" stroke="#000" stroke-width="1.3"/>
</g></g>
<text x="535.4" y="7.3" text-anchor="middle">Strange-antiquark PDF using 13 TeV W+charm data</text>
<text x="535.5" y="245.1" text-anchor="middle">x</text>
<text transform="translate(357.8,118.0) rotate(-90)" text-anchor="middle">Relative error</text>
<text x="383.0" y="224.0" text-anchor="end">-0.4</text>
<text x="383.0" y="198.5" text-anchor="end">-0.3</text>
<text x="383.0" y="172.9" text-anchor="end">-0.2</text>
<text x="383.0" y="147.3" text-anchor="end">-0.1</text>
<text x="383.0" y="121.8" text-anchor="end">0</text>
<text x="383.0" y="96.2" text-anchor="end">0.1</text>
<text x="383.0" y="70.7" text-anchor="end">0.2</text>
<text x="383.0" y="45.1" text-anchor="end">0.3</text>
<text x="383.0" y="19.1" text-anchor="end">0.4</text>
<text x="387.6" y="233.3" text-anchor="middle">0.001</text>
<text x="490.4" y="233.3" text-anchor="middle">0.01</text>
<text x="593.3" y="233.3" text-anchor="middle">0.1</text>
<text x="561.9" y="29.1" text-anchor="end">Baseline</text>
<path filter="url(#soft)" d="M567.9,25.6h26.8" stroke="#00ff00" stroke-width="1.25"/>
<text x="561.9" y="39.4" text-anchor="end">Profiling with correlations</text>
<path filter="url(#soft)" d="M567.9,36.3h26.8" stroke="#ff0000" stroke-width="1.25"/>
<text x="561.9" y="50.3" text-anchor="end">Profiling without correlations</text>
<path filter="url(#soft)" d="M567.9,47.2h26.8" stroke="#000000" stroke-width="1.25"/>
<text x="561.2" y="61.4" text-anchor="end">f<tspan font-size="7.2" dy="2.7">corr</tspan><tspan dy="-2.7"> = 1</tspan></text>
</svg>
</body></html>
